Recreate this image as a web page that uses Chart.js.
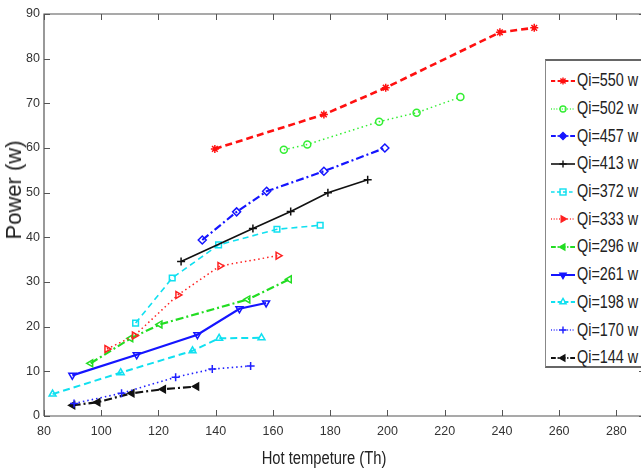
<!DOCTYPE html>
<html>
<head>
<meta charset="utf-8">
<script src="https://cdn.jsdelivr.net/npm/chart.js@4.4.1/dist/chart.umd.min.js"></script>
<style>
    html, body { margin: 0; padding: 0; background: #fff; }
    #wrap { position: relative; width: 641px; height: 470px; overflow: hidden; background: #fff; }
    #chartCanvas { position: absolute; left: 0; top: 0; }
    .axis-title { position: absolute; color: #222; white-space: nowrap; }
    #ytitle { font: 22px 'Liberation Sans', Arial, sans-serif; left: 14px; top: 190px; transform: translate(-50%, -50%) rotate(-90deg); }
    #xtitle { font: 18px 'Liberation Sans', Arial, sans-serif; left: 324px; top: 458px; transform: translate(-50%, -50%) scaleX(0.82); }
    #legend { position: absolute; left: 545px; top: 59px; width: 140px; height: 309px; background: #fff;
              border-top: 2px solid #666; border-left: 1px solid #888; border-bottom: 2px solid #666; box-sizing: border-box; padding-top: 6px; }
    .leg-row { display: flex; align-items: center; height: 27.7px; white-space: nowrap; }
    .leg-row svg { margin-left: 5px; margin-right: 2px; flex: none; }
    .leg-row span { display: inline-block; font: 18px 'Liberation Sans', Arial, sans-serif; color: #222; transform: scaleX(0.8); transform-origin: left center; }
</style>
</head>
<body>
<div id="wrap">
    <canvas id="chartCanvas" width="660" height="470"></canvas>
    <div id="ytitle" class="axis-title">Power (w)</div>
    <div id="xtitle" class="axis-title">Hot tempeture (Th)</div>
    <div id="legend"></div>
</div>
<script>
// Datos: temperatura caliente (Th) y potencia (w) por caudal Qi
const seriesLabels = ['Qi=550 w', 'Qi=502 w', 'Qi=457 w', 'Qi=413 w', 'Qi=372 w', 'Qi=333 w',
                      'Qi=296 w', 'Qi=261 w', 'Qi=198 w', 'Qi=170 w', 'Qi=144 w'];

const th550 = [139.7, 177.8, 199.4, 239.3, 251.3];
const pw550 = [59.8, 67.5, 73.5, 85.9, 86.9];
const th502 = [163.8, 172.0, 197.1, 210.2, 225.5];
const pw502 = [59.6, 60.8, 65.9, 67.9, 71.4];
const th457 = [135.3, 147.3, 157.8, 177.8, 199.1];
const pw457 = [39.4, 45.7, 50.3, 54.8, 60.0];
const th413 = [127.9, 153.0, 166.2, 179.2, 193.1];
const pw413 = [34.6, 42.0, 45.8, 50.0, 52.9];
const th372 = [112.0, 124.8, 141.0, 161.4, 176.5];
const pw372 = [20.8, 30.9, 38.3, 41.8, 42.7];
const th333 = [102.0, 111.6, 126.8, 141.5, 161.8];
const pw333 = [15.0, 18.0, 27.1, 33.6, 35.9];
const th296 = [96.3, 110.3, 120.5, 151.2, 165.7];
const pw296 = [11.8, 17.4, 20.5, 26.1, 30.6];
const th261 = [89.9, 112.4, 133.6, 148.3, 157.6];
const pw261 = [9.1, 13.7, 18.2, 24.0, 25.3];
const th198 = [83.0, 106.8, 131.9, 141.2, 156.0];
const pw198 = [4.9, 9.7, 14.6, 17.4, 17.5];
const th170 = [90.5, 107.1, 126.0, 138.8, 152.2];
const pw170 = [2.8, 5.1, 8.7, 10.5, 11.2];
const th144 = [90.0, 98.8, 110.7, 121.7, 133.3];
const pw144 = [2.4, 3.1, 5.1, 6.0, 6.6];

const xTicks = [80, 100, 120, 140, 160, 180, 200, 220, 240, 260, 280];
const yTicks = [0, 10, 20, 30, 40, 50, 60, 70, 80, 90];

const tickFont = "'Liberation Sans', Arial, sans-serif";

function pts(xs, ys) {
    return xs.map((x, i) => ({ x: x, y: ys[i] }));
}

// Estilos tipo MATLAB: color, trazo, marcador
const estilos = [
    { data: pts(th550, pw550), color: '#ff1010', dash: [7, 4],       width: 2.6, marker: 'star',     rot: 0,   fill: true },
    { data: pts(th502, pw502), color: '#33ee33', dash: [1.5, 3],     width: 1.5, marker: 'circle',   rot: 0,   fill: false },
    { data: pts(th457, pw457), color: '#1515ff', dash: [8, 3, 2, 3], width: 2.2, marker: 'rectRot',  rot: 0,   fill: false },
    { data: pts(th413, pw413), color: '#111111', dash: [],           width: 1.6, marker: 'cross',    rot: 0,   fill: false },
    { data: pts(th372, pw372), color: '#10e0f0', dash: [6, 4],       width: 1.6, marker: 'rect',     rot: 0,   fill: false },
    { data: pts(th333, pw333), color: '#ff2020', dash: [1.5, 3],     width: 1.5, marker: 'triangle', rot: 90,  fill: false },
    { data: pts(th296, pw296), color: '#22dd22', dash: [8, 3, 2, 3], width: 2.2, marker: 'triangle', rot: -90, fill: false },
    { data: pts(th261, pw261), color: '#1515ff', dash: [],           width: 2.2, marker: 'triangle', rot: 180, fill: false },
    { data: pts(th198, pw198), color: '#10e0f0', dash: [7, 4],       width: 2.0, marker: 'triangle', rot: 0,   fill: false },
    { data: pts(th170, pw170), color: '#2020ff', dash: [1.5, 3],     width: 1.6, marker: 'cross',    rot: 0,   fill: false },
    { data: pts(th144, pw144), color: '#111111', dash: [8, 3, 2, 3], width: 2.2, marker: 'triangle', rot: -90, fill: true }
];

const datasets = estilos.map((s, i) => ({
    label: seriesLabels[i],
    data: s.data,
    borderColor: s.color,
    borderWidth: s.width,
    borderDash: s.dash,
    pointStyle: s.marker,
    pointRotation: s.rot,
    pointRadius: s.marker === 'circle' ? 3.5 : 4,
    pointBorderColor: s.color,
    pointBorderWidth: 1.5,
    pointBackgroundColor: s.fill ? s.color : 'rgba(255,255,255,0)',
    tension: 0,
    fill: false
}));

// Marco completo y marcas hacia dentro (estilo MATLAB)
const boxPlugin = {
    id: 'boxPlugin',
    afterDraw(chart) {
        const { ctx, chartArea } = chart;
        const { left, right, top, bottom } = chartArea;
        const xs = chart.scales.x, ys = chart.scales.y;
        ctx.save();
        ctx.strokeStyle = '#555';
        ctx.lineWidth = 1.2;
        ctx.beginPath();
        ctx.moveTo(left, bottom); ctx.lineTo(left, top); ctx.lineTo(right, top); ctx.lineTo(right, bottom); ctx.lineTo(left, bottom);
        ctx.stroke();
        ctx.lineWidth = 1;
        ctx.beginPath();
        xTicks.forEach(v => {
            const px = Math.round(xs.getPixelForValue(v)) + 0.5;
            ctx.moveTo(px, bottom); ctx.lineTo(px, bottom - 6);
            ctx.moveTo(px, top); ctx.lineTo(px, top + 6);
        });
        yTicks.forEach(v => {
            const py = Math.round(ys.getPixelForValue(v)) + 0.5;
            ctx.moveTo(left, py); ctx.lineTo(left + 6, py);
            ctx.moveTo(right, py); ctx.lineTo(right - 6, py);
        });
        ctx.stroke();
        ctx.restore();
    }
};

const ctx = document.getElementById('chartCanvas').getContext('2d');
const chart = new Chart(ctx, {
    type: 'line',
    data: { datasets: datasets },
    options: {
        responsive: false,
        animation: false,
        devicePixelRatio: 1,
        layout: { padding: { top: 14, right: 15, left: 0, bottom: 0 } },
        plugins: { legend: { display: false }, tooltip: { enabled: false } },
        scales: {
            x: {
                type: 'linear',
                min: 80,
                max: 290,
                afterBuildTicks: s => { s.ticks = xTicks.map(v => ({ value: v })); },
                afterFit: s => { s.height = 54; },
                grid: { display: false, drawTicks: false },
                border: { display: false },
                ticks: { padding: 8, color: '#333', font: { family: tickFont, size: 12.5 }, maxRotation: 0, autoSkip: false }
            },
            y: {
                type: 'linear',
                min: 0,
                max: 90,
                afterBuildTicks: s => { s.ticks = yTicks.map(v => ({ value: v })); },
                afterFit: s => { s.width = 44; },
                grid: { display: false, drawTicks: false },
                border: { display: false },
                ticks: { padding: 4, color: '#333', font: { family: tickFont, size: 12.5 }, autoSkip: false }
            }
        }
    },
    plugins: [boxPlugin]
});

// Leyenda en HTML con muestras de línea y marcador
function markerSvg(s) {
    const cx = 12, cy = 7, r = 3.6;
    const stroke = `stroke="${s.color}" stroke-width="1.4"`;
    if (s.marker === 'circle') return `<circle cx="${cx}" cy="${cy}" r="3" fill="none" ${stroke}/>`;
    if (s.marker === 'rect') return `<rect x="${cx - 3}" y="${cy - 3}" width="6" height="6" fill="none" ${stroke}/>`;
    if (s.marker === 'rectRot') return `<polygon points="${cx},${cy - r} ${cx + r},${cy} ${cx},${cy + r} ${cx - r},${cy}" fill="${s.color}" ${stroke}/>`;
    if (s.marker === 'cross') return `<path d="M${cx - r} ${cy}H${cx + r}M${cx} ${cy - r}V${cy + r}" ${stroke}/>`;
    if (s.marker === 'star') return `<path d="M${cx - r} ${cy}H${cx + r}M${cx} ${cy - r}V${cy + r}M${cx - 2.6} ${cy - 2.6}L${cx + 2.6} ${cy + 2.6}M${cx + 2.6} ${cy - 2.6}L${cx - 2.6} ${cy + 2.6}" ${stroke}/>`;
    // triángulo con rotación
    const p = [0, 120, 240].map(a => {
        const ang = (a + s.rot - 90) * Math.PI / 180;
        return `${(cx + r * Math.cos(ang)).toFixed(2)},${(cy + r * Math.sin(ang)).toFixed(2)}`;
    }).join(' ');
    const relleno = (s.fill || s.color !== '#10e0f0') ? s.color : 'none';
    return `<polygon points="${p}" fill="${relleno}" ${stroke}/>`;
}

const legendEl = document.getElementById('legend');
estilos.forEach((s, i) => {
    const dash = s.dash.length ? `stroke-dasharray="${s.dash.map(d => d * 0.6).join(',')}"` : '';
    legendEl.innerHTML += `
        <div class="leg-row">
            <svg width="24" height="14"><line x1="0" y1="7" x2="24" y2="7" stroke="${s.color}" stroke-width="${Math.min(s.width, 2)}" ${dash}/>${markerSvg(s)}</svg>
            <span>${seriesLabels[i]}</span>
        </div>`;
});
</script>
</body>
</html>
